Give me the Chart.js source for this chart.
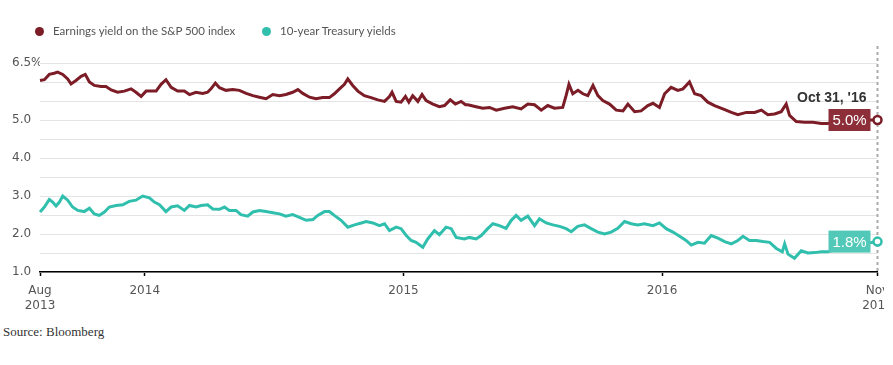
<!DOCTYPE html>
<html>
<head>
<meta charset="utf-8">
<script src="https://cdn.jsdelivr.net/npm/chart.js@4.4.1/dist/chart.umd.min.js"></script>
<style>
  html, body { margin: 0; padding: 0; background: #fff; }
  #wrap { position: relative; width: 893px; height: 365px; overflow: hidden; }
  #chart { position: absolute; left: 0; top: 0; }
  .legend-item { position: absolute; top: 23px; font: 11.5px Lato, sans-serif; color: #555; white-space: nowrap; line-height: 16px; }
  .dot { display: inline-block; width: 9px; height: 9px; border-radius: 50%; margin-right: 9px; vertical-align: -1px; }
  #source { position: absolute; left: 3px; top: 324px; font: 13px "Liberation Serif", serif; color: #333; }
</style>
</head>
<body>
<div id="wrap">
  <canvas id="chart" width="884" height="320"></canvas>
  <div class="legend-item" style="left:35px"><span class="dot" style="background:#7b1c26"></span>Earnings yield on the S&amp;P 500 index</div>
  <div class="legend-item" style="left:262px"><span class="dot" style="background:#30bfad"></span>10-year Treasury yields</div>
  <div id="source">Source: Bloomberg</div>
</div>
<script>
// dates as decimal years, values in %
const eyYears = [
  2013.595, 2013.612, 2013.631, 2013.650, 2013.663, 2013.683, 2013.702, 2013.715, 2013.734, 2013.754,
  2013.770, 2013.786, 2013.805, 2013.831, 2013.850, 2013.870, 2013.895, 2013.921, 2013.947, 2013.966,
  2013.986, 2014.005, 2014.024, 2014.044, 2014.063, 2014.082, 2014.102, 2014.127, 2014.153, 2014.173,
  2014.198, 2014.224, 2014.243, 2014.256, 2014.273, 2014.289, 2014.314, 2014.340, 2014.366, 2014.392,
  2014.418, 2014.443, 2014.469, 2014.495, 2014.521, 2014.546, 2014.572, 2014.592, 2014.611, 2014.637,
  2014.662, 2014.688, 2014.714, 2014.733, 2014.753, 2014.772, 2014.785, 2014.804, 2014.824, 2014.849,
  2014.875, 2014.901, 2014.927, 2014.946, 2014.956, 2014.972, 2014.991, 2015.008, 2015.021, 2015.036,
  2015.056, 2015.072, 2015.088, 2015.114, 2015.139, 2015.159, 2015.181, 2015.201, 2015.223, 2015.240,
  2015.249, 2015.281, 2015.307, 2015.333, 2015.359, 2015.391, 2015.423, 2015.455, 2015.481, 2015.507,
  2015.533, 2015.558, 2015.584, 2015.616, 2015.629, 2015.640, 2015.655, 2015.675, 2015.694, 2015.713,
  2015.733, 2015.752, 2015.771, 2015.797, 2015.823, 2015.849, 2015.868, 2015.894, 2015.919, 2015.945,
  2015.965, 2015.990, 2016.010, 2016.035, 2016.061, 2016.081, 2016.106, 2016.126, 2016.151, 2016.177,
  2016.203, 2016.235, 2016.268, 2016.293, 2016.326, 2016.358, 2016.384, 2016.409, 2016.435, 2016.461,
  2016.480, 2016.493, 2016.519, 2016.551, 2016.583, 2016.616, 2016.641, 2016.674, 2016.706, 2016.751,
  2016.833
];
const eyValues = [
  6.04, 6.06, 6.20, 6.23, 6.26, 6.20, 6.08, 5.95, 6.04, 6.15,
  6.20, 6.00, 5.91, 5.88, 5.88, 5.79, 5.73, 5.76, 5.82, 5.73,
  5.62, 5.76, 5.76, 5.76, 5.94, 6.06, 5.86, 5.76, 5.76, 5.67,
  5.73, 5.70, 5.73, 5.82, 5.97, 5.85, 5.78, 5.80, 5.78, 5.70,
  5.64, 5.60, 5.56, 5.67, 5.64, 5.67, 5.73, 5.80, 5.70, 5.60,
  5.56, 5.59, 5.59, 5.69, 5.82, 5.94, 6.08, 5.91, 5.76, 5.64,
  5.59, 5.53, 5.49, 5.62, 5.73, 5.49, 5.47, 5.62, 5.47, 5.64,
  5.49, 5.67, 5.51, 5.42, 5.35, 5.38, 5.53, 5.42, 5.49, 5.40,
  5.40, 5.35, 5.31, 5.33, 5.26, 5.31, 5.35, 5.29, 5.42, 5.40,
  5.26, 5.38, 5.31, 5.33, 5.64, 5.94, 5.69, 5.78, 5.69, 5.64,
  5.91, 5.64, 5.51, 5.42, 5.26, 5.24, 5.42, 5.22, 5.24, 5.38,
  5.44, 5.33, 5.69, 5.86, 5.78, 5.82, 6.00, 5.69, 5.64, 5.47,
  5.38, 5.29, 5.20, 5.14, 5.20, 5.20, 5.26, 5.14, 5.16, 5.22,
  5.42, 5.12, 4.96, 4.94, 4.94, 4.91, 4.91, 4.96, 4.98, 5.00,
  5.00
];

const tyYears = [
  2013.595, 2013.612, 2013.631, 2013.644, 2013.657, 2013.670, 2013.683, 2013.702, 2013.721, 2013.741,
  2013.766, 2013.786, 2013.805, 2013.824, 2013.844, 2013.863, 2013.889, 2013.915, 2013.940, 2013.966,
  2013.992, 2014.018, 2014.037, 2014.057, 2014.082, 2014.102, 2014.127, 2014.153, 2014.173, 2014.198,
  2014.218, 2014.243, 2014.263, 2014.289, 2014.308, 2014.327, 2014.353, 2014.372, 2014.398, 2014.418,
  2014.443, 2014.469, 2014.495, 2014.521, 2014.546, 2014.572, 2014.598, 2014.624, 2014.650, 2014.669,
  2014.695, 2014.714, 2014.733, 2014.759, 2014.785, 2014.811, 2014.837, 2014.856, 2014.882, 2014.907,
  2014.927, 2014.946, 2014.972, 2014.991, 2015.011, 2015.030, 2015.049, 2015.075, 2015.094, 2015.120,
  2015.139, 2015.165, 2015.185, 2015.204, 2015.236,
  2015.255, 2015.281, 2015.301, 2015.326, 2015.346, 2015.371, 2015.397, 2015.417, 2015.436, 2015.455,
  2015.481, 2015.507, 2015.526, 2015.552, 2015.578, 2015.604, 2015.629, 2015.649, 2015.674, 2015.700,
  2015.726, 2015.752, 2015.778, 2015.803, 2015.829, 2015.855, 2015.881, 2015.906, 2015.932, 2015.965,
  2015.990, 2016.016, 2016.042, 2016.068, 2016.093, 2016.113, 2016.139, 2016.164, 2016.190, 2016.216,
  2016.242, 2016.268, 2016.293, 2016.313, 2016.338, 2016.364, 2016.390, 2016.416, 2016.442, 2016.465,
  2016.474, 2016.487, 2016.512, 2016.538, 2016.564, 2016.590, 2016.616, 2016.641, 2016.674, 2016.706,
  2016.738, 2016.777, 2016.833
];
const tyValues = [
  2.58, 2.71, 2.91, 2.84, 2.74, 2.84, 3.00, 2.89, 2.71, 2.62,
  2.59, 2.68, 2.53, 2.49, 2.58, 2.71, 2.75, 2.77, 2.86, 2.89,
  3.00, 2.95, 2.84, 2.77, 2.59, 2.71, 2.74, 2.62, 2.75, 2.71,
  2.75, 2.77, 2.66, 2.65, 2.71, 2.62, 2.62, 2.51, 2.47, 2.58,
  2.62, 2.59, 2.56, 2.53, 2.47, 2.51, 2.44, 2.36, 2.38, 2.49,
  2.59, 2.59, 2.49, 2.36, 2.18, 2.24, 2.29, 2.33, 2.29, 2.22,
  2.27, 2.09, 2.18, 2.14, 1.96, 1.83, 1.78, 1.65, 1.87, 2.09,
  1.98, 2.18, 2.14, 1.91, 1.87,
  1.91, 1.87, 1.96, 2.14, 2.27, 2.22, 2.15, 2.36, 2.49, 2.36,
  2.47, 2.22, 2.40, 2.29, 2.24, 2.20, 2.14, 2.06, 2.20, 2.24,
  2.14, 2.05, 2.00, 2.05, 2.15, 2.33, 2.27, 2.24, 2.27, 2.22,
  2.29, 2.14, 2.05, 1.94, 1.83, 1.71, 1.78, 1.76, 1.96, 1.89,
  1.80, 1.74, 1.83, 1.94, 1.83, 1.83, 1.80, 1.78, 1.62, 1.53,
  1.74, 1.47, 1.36, 1.56, 1.50, 1.51, 1.53, 1.53, 1.60, 1.62,
  1.60, 1.74, 1.80
];

const xTicks = [2013.595, 2014, 2015, 2016, 2016.833];
const xTickLabels = [['Aug', '2013'], '2014', '2015', '2016', ['Nov', '2016']];
const yLabelled = [1, 2, 3, 4, 5];
const yTopLabel = 6.5;
const lastDateLabel = "Oct 31, '16";

const RED = '#7b1c26', RED_BOX = '#8c2f38';
const TEAL = '#30bfad', TEAL_BOX = '#52c9b8';

function lastOnly(r) {
    return ctx => ctx.dataIndex === ctx.dataset.data.length - 1 ? r : 0;
}

const endMarks = {
    id: 'endMarks',
    beforeDatasetsDraw(chart) {
        const { ctx, chartArea, scales: { x } } = chart;
        const xp = x.getPixelForValue(x.max);
        ctx.save();
        ctx.strokeStyle = '#aaa';
        ctx.lineWidth = 2;
        ctx.setLineDash([3, 3]);
        ctx.beginPath();
        ctx.moveTo(xp, 46);
        ctx.lineTo(xp, chartArea.bottom);
        ctx.stroke();
        ctx.restore();
    },
    afterDatasetsDraw(chart) {
        const { ctx, scales: { x, y } } = chart;
        const boxes = [
            { vals: eyValues, fill: RED_BOX },
            { vals: tyValues, fill: TEAL_BOX }
        ];
        const xp = x.getPixelForValue(x.max);
        ctx.save();
        boxes.forEach(b => {
            const v = b.vals[b.vals.length - 1];
            const yp = y.getPixelForValue(v);
            ctx.fillStyle = b.fill;
            ctx.fillRect(xp - 49, yp - 11, 42, 22);
            ctx.fillStyle = '#fff';
            ctx.font = '15px "Liberation Sans", Arial, sans-serif';
            ctx.textAlign = 'center';
            ctx.textBaseline = 'middle';
            ctx.fillText(v.toFixed(1) + '%', xp - 28, yp + 1);
        });
        const yTop = y.getPixelForValue(eyValues[eyValues.length - 1]);
        ctx.fillStyle = '#333';
        ctx.font = 'bold 14px "Liberation Sans", Arial, sans-serif';
        ctx.textAlign = 'right';
        ctx.textBaseline = 'middle';
        ctx.fillText(lastDateLabel, xp - 11, yTop - 22);
        ctx.restore();
    }
};

const tickFont = { family: '"DejaVu Sans", sans-serif', size: 12, lineHeight: 1.25 };

new Chart(document.getElementById('chart'), {
    type: 'line',
    data: {
        datasets: [
            {
                label: 'Earnings yield on the S&P 500 index',
                data: eyYears.map((d, i) => ({ x: d, y: eyValues[i] })),
                borderColor: RED,
                borderWidth: 3,
                tension: 0,
                clip: false,
                pointRadius: lastOnly(4),
                pointBorderWidth: 2.5,
                pointBorderColor: RED,
                pointBackgroundColor: '#fff'
            },
            {
                label: '10-year Treasury yields',
                data: tyYears.map((d, i) => ({ x: d, y: tyValues[i] })),
                borderColor: TEAL,
                borderWidth: 3,
                tension: 0,
                clip: false,
                pointRadius: lastOnly(4),
                pointBorderWidth: 2.5,
                pointBorderColor: TEAL,
                pointBackgroundColor: '#fff'
            }
        ]
    },
    options: {
        responsive: false,
        animation: false,
        layout: { padding: { top: 63, left: 12, right: 6, bottom: 0 } },
        plugins: {
            legend: { display: false },
            tooltip: { enabled: false }
        },
        scales: {
            x: {
                type: 'linear',
                min: xTicks[0],
                max: xTicks[xTicks.length - 1],
                afterBuildTicks: scale => { scale.ticks = xTicks.map(v => ({ value: v })); },
                afterFit: scale => { scale.height = 48; scale.paddingLeft = 0; scale.paddingRight = 0; },
                border: { display: true, color: '#000', width: 1.5 },
                grid: { drawOnChartArea: false, drawTicks: true, tickLength: 4, color: '#000', tickWidth: 1.5 },
                ticks: {
                    autoSkip: false,
                    maxRotation: 0,
                    padding: 7,
                    color: '#555',
                    font: tickFont,
                    callback: (v, i) => xTickLabels[i]
                }
            },
            y: {
                min: 1,
                max: 6.5,
                afterFit: scale => { scale.width = 28; },
                border: { display: false },
                grid: { color: '#e4e4e4', drawTicks: false },
                ticks: {
                    stepSize: 0.5,
                    padding: 0,
                    crossAlign: 'far',
                    color: '#555',
                    font: tickFont,
                    callback: v => v === yTopLabel ? v.toFixed(1) + '%' : (yLabelled.includes(v) ? v.toFixed(1) : '')
                }
            }
        }
    },
    plugins: [endMarks]
});
</script>
</body>
</html>
